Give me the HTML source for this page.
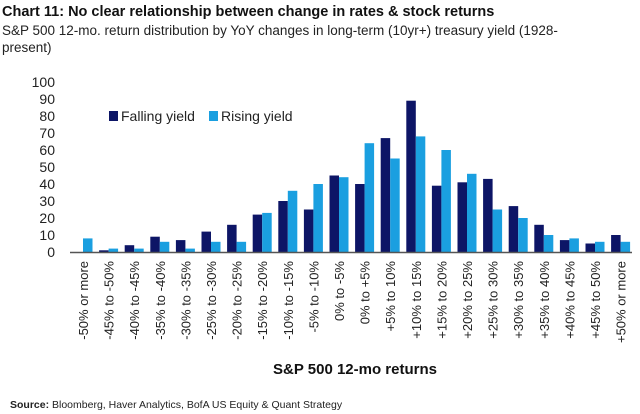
<!DOCTYPE html>
<html><head><meta charset="utf-8"><style>
body{margin:0;background:#fff;width:640px;height:414px;overflow:hidden;font-family:"Liberation Sans",sans-serif;}
svg{display:block}
</style></head><body>
<svg width="640" height="414">
<text x="2" y="16" font-size="14.5" font-weight="bold" fill="#111">Chart 11: No clear relationship between change in rates &amp; stock returns</text>
<text x="2" y="35" font-size="13.5" fill="#222">S&amp;P 500 12-mo. return distribution by YoY changes in long-term (10yr+) treasury yield (1928-</text>
<text x="2" y="52" font-size="13.5" fill="#222">present)</text>
<g id="yaxis"></g>
<g id="bars"></g>
<g id="xaxis"></g>
<g>
<rect x="109" y="111" width="9" height="10" fill="#0d1566"/>
<text x="121" y="121" font-size="14" fill="#222">Falling yield</text>
<rect x="209" y="111" width="9" height="10" fill="#1a9fe0"/>
<text x="221" y="121" font-size="14" fill="#222">Rising yield</text>
</g>
<text x="355" y="374" text-anchor="middle" font-size="15" font-weight="bold" fill="#111">S&amp;P 500 12-mo returns</text>
<text x="10" y="408" font-size="10.5" fill="#222"><tspan font-weight="bold">Source:</tspan>  Bloomberg, Haver Analytics, BofA US Equity &amp; Quant Strategy</text>
</svg>
<script>
const categories=["-50% or more","-45% to -50%","-40% to -45%","-35% to -40%","-30% to -35%","-25% to -30%","-20% to -25%","-15% to -20%","-10% to -15%","-5% to -10%","0% to -5%","0% to +5%","+5% to 10%","+10% to 15%","+15% to 20%","+20% to 25%","+25% to 30%","+30% to 35%","+35% to 40%","+40% to 45%","+45% to 50%","+50% or more"];
const falling=[0,1,4,9,7,12,16,22,30,25,45,40,67,89,39,41,43,27,16,7,5,10];
const rising=[8,2,2,6,2,6,6,23,36,40,44,64,55,68,60,46,25,20,10,8,6,6];
const yTicks=[0,10,20,30,40,50,60,70,80,90,100];
const NS="http://www.w3.org/2000/svg";
const y0=252,yTop=82,yMax=100;
const yScale=v=>y0-(v/yMax)*(y0-yTop);
const xStart=83,step=25.6,bw=9.5;
const xScale=i=>xStart+step*i;
function mk(t,a,p){const e=document.createElementNS(NS,t);for(const k in a)e.setAttribute(k,a[k]);p.appendChild(e);return e;}
const ya=document.getElementById('yaxis'),bars=document.getElementById('bars'),xa=document.getElementById('xaxis');
yTicks.forEach(v=>{const t=mk('text',{x:55,y:yScale(v)+5,'text-anchor':'end','font-size':14,fill:'#222'},ya);


t.textContent=v;});
categories.forEach((c,i)=>{const cx=xScale(i);
if(falling[i]>0){const r=mk('rect',{x:cx-bw,y:yScale(falling[i]),width:bw,height:y0-yScale(falling[i]),fill:'#0d1566'},bars);

}
if(rising[i]>0){const r=mk('rect',{x:cx,y:yScale(rising[i]),width:bw,height:y0-yScale(rising[i]),fill:'#1a9fe0'},bars);

}
const t=mk('text',{x:0,y:0,transform:`translate(${cx+5},261) rotate(-90)`,'text-anchor':'end','font-size':13,fill:'#222'},xa);


t.textContent=c;});
const ax=mk('line',{x1:70,x2:632,y1:y0+0.5,y2:y0+0.5,stroke:'#555','stroke-width':1.5},xa);


</script>
</body></html>
